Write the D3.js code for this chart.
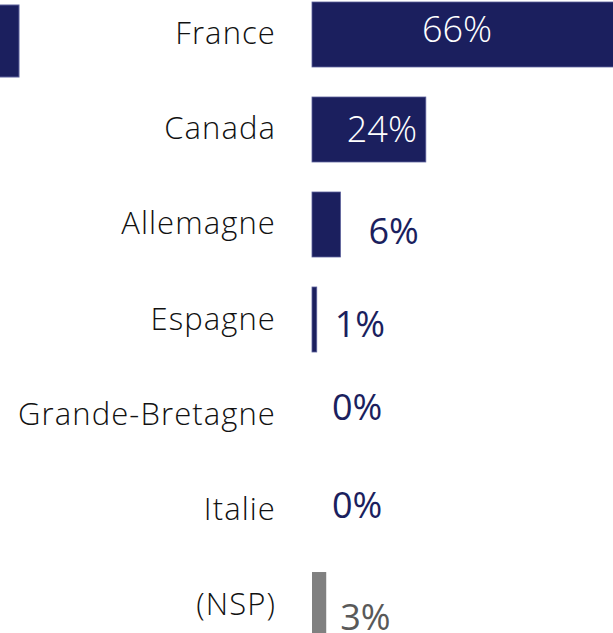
<!DOCTYPE html>
<html lang="fr">
<head>
<meta charset="utf-8">
<script src="https://d3js.org/d3.v7.min.js"></script>
<style>
  body { margin: 0; background: #fff; overflow: hidden; }
  #chart text { font-family: "Open Sans", sans-serif; font-weight: 300; }
</style>
</head>
<body>
<div id="chart"></div>
<script>
  const categories = ["France", "Canada", "Allemagne", "Espagne", "Grande-Bretagne", "Italie", "(NSP)"];
  const values = [66, 24, 6, 1, 0, 0, 3];

  const W = 613, H = 633;
  const navy = "#1b1f5e", grey = "#808080";

  // label nudges as placed by hand in the original (dx from bar end, dy from row centre)
  const labelDx = [-203, -79, 28, 18, 20, 20, 14];
  const labelDy = [7.5, 12.5, 19.5, 17.5, 5.5, 8.5, 25.5];

  const svg = d3.select("#chart").append("svg")
    .attr("width", W).attr("height", H);

  const x = d3.scaleLinear().domain([0, 66]).range([312, 625]);
  const y = d3.scaleBand().domain(categories).range([2, 637]).paddingInner(0.316).paddingOuter(0);

  // clipped bar of the neighbouring chart on the left
  svg.append("rect")
    .attr("x", -20).attr("y", 5).attr("width", 39).attr("height", 72)
    .attr("fill", navy).attr("stroke", "#5a5f9a").attr("stroke-width", 1);

  const rows = svg.selectAll("g.row").data(categories).join("g").attr("class", "row");

  rows.append("text")
    .attr("x", 276)
    .attr("y", d => y(d) + y.bandwidth() / 2 + 10)
    .attr("text-anchor", "end")
    .attr("font-size", 31)
    .attr("letter-spacing", 1.1)
    .attr("fill", "#111")
    .text(d => d);

  rows.filter((d, i) => values[i] > 0).append("rect")
    .attr("x", x(0))
    .attr("y", d => y(d))
    .attr("width", d => x(values[categories.indexOf(d)]) - x(0))
    .attr("height", y.bandwidth())
    .attr("fill", d => d === "(NSP)" ? grey : navy)
    .attr("stroke", d => d === "(NSP)" ? "none" : "#5a5f9a")
    .attr("stroke-width", 0.8);

  rows.append("text")
    .attr("font-size", 36)
    .attr("x", (d, i) => x(values[i]) + labelDx[i])
    .attr("y", (d, i) => y(d) + y.bandwidth() / 2 + labelDy[i])
    .attr("fill", (d, i) => values[i] >= 20 ? "#fff" : d === "(NSP)" ? "#595959" : navy)
    .style("font-weight", (d, i) => values[i] >= 20 ? 300 : 400)
    .text((d, i) => values[i] + "%");
</script>
</body>
</html>
